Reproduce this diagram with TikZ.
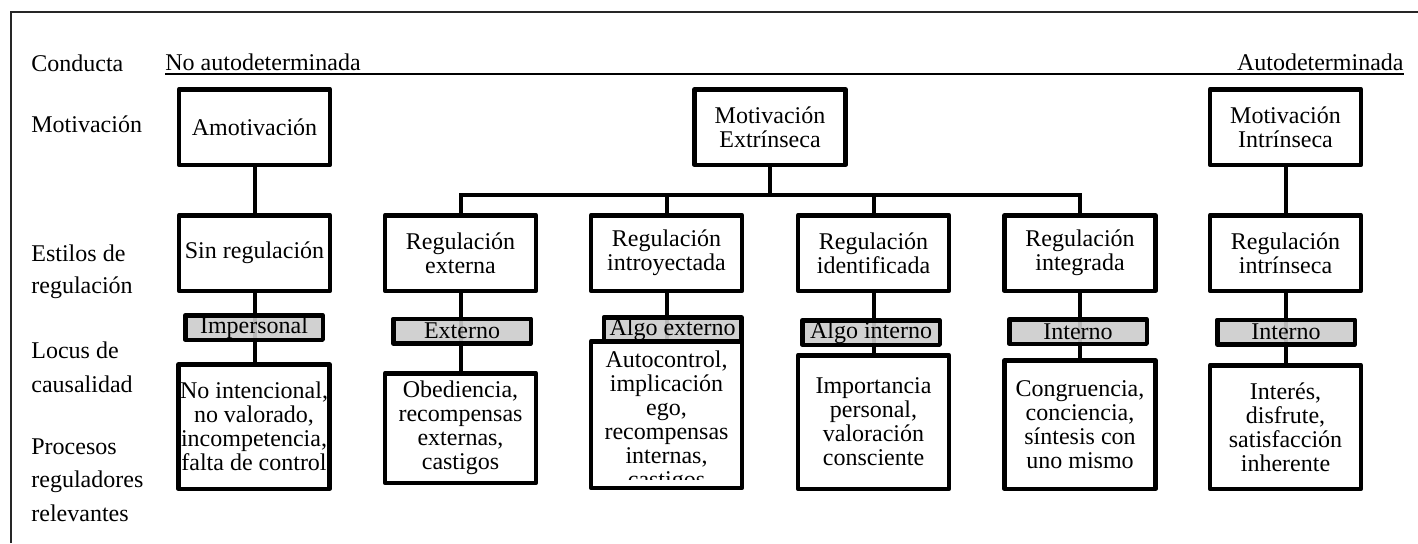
\documentclass[tikz,border=0pt]{standalone}
\usepackage{fontspec}
\setmainfont{Liberation Serif}
\usetikzlibrary{backgrounds}
\newcommand\fsz{\fontsize{12}{12}\selectfont}
\tikzset{
  box/.style={draw, line width=2.25pt, fill=white, minimum width=75.5pt,
    inner sep=0pt, align=center, line join=round, font=\fsz},
  locus/.style={draw, line width=2.25pt, fill=gray!40, fill opacity=0.9,
    text opacity=1, minimum width=68.75pt, minimum height=12.25pt,
    inner sep=0pt, line join=round, font=\fsz},
  link/.style={line width=2pt},
  side/.style={anchor=base west, inner sep=0pt, font=\fsz},
  frame/.style={line width=1pt, draw=black!85},
}
\begin{document}
\begin{tikzpicture}[x=0.5pt, y=-0.5pt]
\useasboundingbox (0,0) rectangle (1418,543);

% outer frame (top and left edges)
\coordinate (fr0) at (10.5,12);
\coordinate (fr1) at (1418,12);
\coordinate (fr2) at (10.5,543);
\draw[frame] (fr2) -- (fr0) -- (fr1);

% row labels
\node[side] (l1) at (31,71) {Conducta};
\node[side] (l2) at (31,132) {Motivación};
\node[side] (l3) at (31,261) {Estilos de};
\node[side] (l4) at (31,293) {regulación};
\node[side] (l5) at (31,358) {Locus de};
\node[side] (l6) at (31,392) {causalidad};
\node[side] (l7) at (31,454) {Procesos};
\node[side] (l8) at (31,487) {reguladores};
\node[side] (l9) at (31,521) {relevantes};

% continuum of behaviour
\node[side] (nad) at (165,70) {No autodeterminada};
\node[side, anchor=base east] (ad) at (1404,70) {Autodeterminada};
\coordinate (ul0) at (165,74);
\coordinate (ul1) at (1404,74);
\draw[line width=1pt] (ul0) -- (ul1);

% type of motivation
\node[box, minimum height=37.75pt] (amot) at (254.5,127) {Amotivación};
\node[box, minimum height=37.75pt] (mext) at (770,127) {Motivación\\Extrínseca};
\node[box, minimum height=37.75pt] (mint) at (1285.5,127) {Motivación\\Intrínseca};

% regulatory styles
\node[box, minimum height=37.75pt] (sinreg) at (254.5,253) {Sin regulación};
\node[box, minimum height=37.75pt] (rext) at (460.5,253) {Regulación\\externa};
\node[box, minimum height=37.75pt] (rintro) at (666.5,253) {Regulación\\introyectada};
\node[box, minimum height=37.75pt] (rident) at (873.5,253) {Regulación\\identificada};
\node[box, minimum height=37.75pt] (rinteg) at (1080,253) {Regulación\\integrada};
\node[box, minimum height=37.75pt] (rintr) at (1285.5,253) {Regulación\\intrínseca};

% locus of causality
\node[locus] (lc1) at (254,327.5) {Impersonal};
\node[locus] (lc2) at (462,331) {Externo};
\node[locus] (lc3) at (672.5,329.5) {Algo externo};
\node[locus] (lc4) at (871,332.5) {Algo interno};
\node[locus] (lc5) at (1078,331.5) {Interno};
\node[locus] (lc6) at (1286,332) {Interno};

% relevant regulatory processes
\node[box, minimum height=62.25pt] (pr1) at (254,426.5) {No intencional,\\no valorado,\\incompetencia,\\falta de control};
\node[box, minimum height=54.75pt] (pr2) at (460.5,428) {Obediencia,\\recompensas\\externas,\\castigos};
\node[box, minimum height=73.25pt] (pr3) at (666.5,414.5) {};
\node[box, minimum height=66.75pt] (pr4) at (873.5,422) {Importancia\\personal,\\valoración\\consciente};
\node[box, minimum height=64.25pt] (pr5) at (1080,424.5) {Congruencia,\\conciencia,\\síntesis con\\uno mismo};
\node[box, minimum height=61.75pt] (pr6) at (1285.5,427) {Interés,\\disfrute,\\satisfacción\\inherente};

% overflowing text of the introjected box, cut at its inner margin
\begin{scope}
  \clip (590.5,341) rectangle (742.5,479);
  \node[font=\fsz, align=center, inner sep=0pt] (pr3t) at (666.5,422)
    {Autocontrol,\\implicación\\ego,\\recompensas\\internas,\\castigos};
\end{scope}

% connectors
\coordinate (bar) at (770,195);
\begin{pgfonlayer}{background}
\draw[link] (amot.south) -- (sinreg.north);
\draw[link] (mint.south) -- (rintr.north);
\draw[link] (mext.south) -- (bar);
\draw[link] (rext.north) |- (bar) -| (rinteg.north);
\draw[link] (rintro.north) -- (rintro.north |- bar);
\draw[link] (rident.north) -- (rident.north |- bar);
\draw[link] (sinreg.south) -- (sinreg.south |- pr1.north);
\draw[link] (rext.south) -- (pr2.north);
\draw[link] (rintro.south) -- (pr3.north);
\draw[link] (rident.south) -- (pr4.north);
\draw[link] (rinteg.south) -- (pr5.north);
\draw[link] (rintr.south) -- (pr6.north);
\end{pgfonlayer}
\end{tikzpicture}
\end{document}
